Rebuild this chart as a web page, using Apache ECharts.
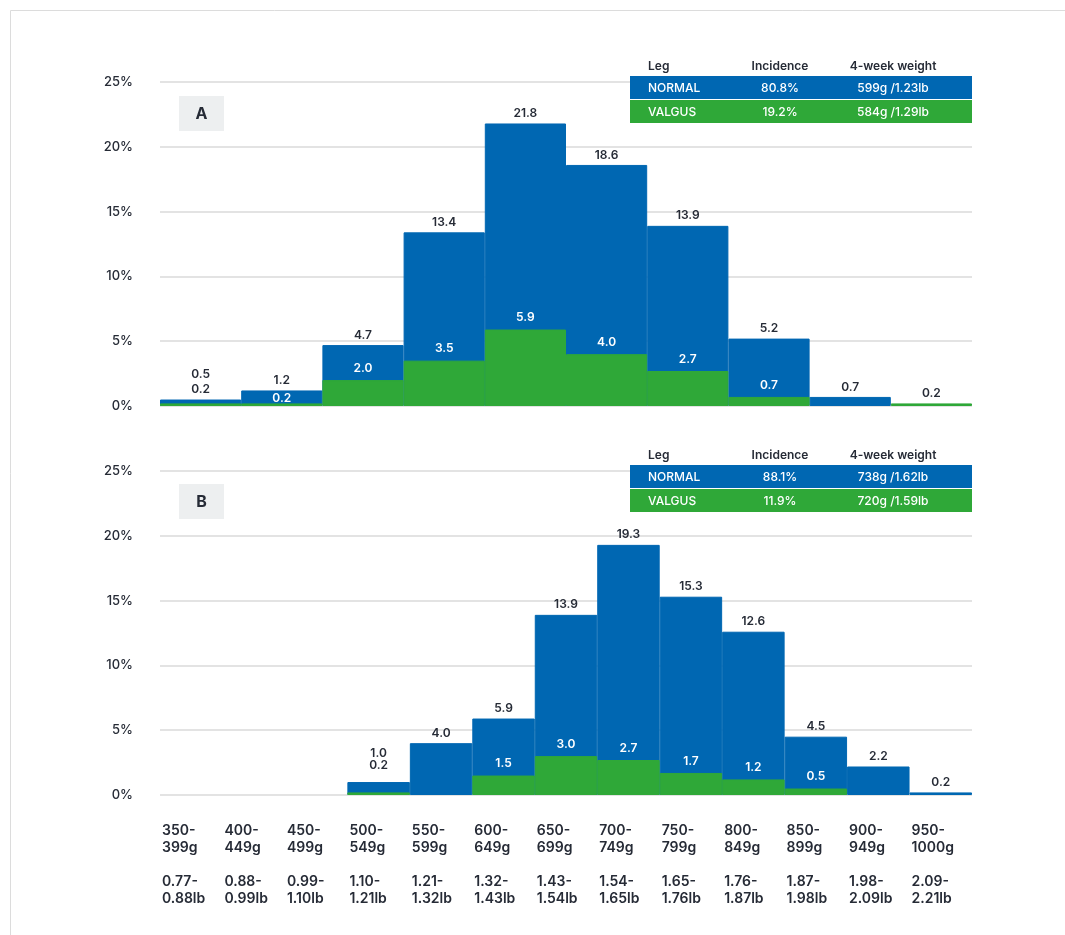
<!DOCTYPE html>
<html>
<head>
<meta charset="utf-8">
<title>Leg incidence by weight class</title>
<script src="https://cdn.jsdelivr.net/npm/echarts@6/dist/echarts.min.js"></script>
<style>
  html, body { margin: 0; padding: 0; background: #fff; }
  #chart { width: 1065px; height: 935px; }
</style>
</head>
<body>
<div id="chart"></div>
<script>
// panel A uses 10 bins, panel B uses the 13 labelled weight classes
const binsA = ['1', '2', '3', '4', '5', '6', '7', '8', '9', '10']
const normalA = [0.5, 1.2, 4.7, 13.4, 21.8, 18.6, 13.9, 5.2, 0.7, null]
const valgusA = [0.2, 0.2, 2.0, 3.5, 5.9, 4.0, 2.7, 0.7, null, 0.2]

const gramLabels = ['350-\n399g', '400-\n449g', '450-\n499g', '500-\n549g', '550-\n599g', '600-\n649g',
  '650-\n699g', '700-\n749g', '750-\n799g', '800-\n849g', '850-\n899g', '900-\n949g', '950-\n1000g']
const poundLabels = ['0.77-\n0.88lb', '0.88-\n0.99lb', '0.99-\n1.10lb', '1.10-\n1.21lb', '1.21-\n1.32lb', '1.32-\n1.43lb',
  '1.43-\n1.54lb', '1.54-\n1.65lb', '1.65-\n1.76lb', '1.76-\n1.87lb', '1.87-\n1.98lb', '1.98-\n2.09lb', '2.09-\n2.21lb']
const normalB = [null, null, null, 1.0, 4.0, 5.9, 13.9, 19.3, 15.3, 12.6, 4.5, 2.2, 0.2]
const valgusB = [null, null, null, 0.2, null, 1.5, 3.0, 2.7, 1.7, 1.2, 0.5, null, null]

const yTicks = [0, 5, 10, 15, 20, 25]

const tableA = [['NORMAL', '80.8%', '599g /1.23lb'], ['VALGUS', '19.2%', '584g /1.29lb']]
const tableB = [['NORMAL', '88.1%', '738g /1.62lb'], ['VALGUS', '11.9%', '720g /1.59lb']]

const BLUE = '#0067b2'
const GREEN = '#2fa838'
const DARK = '#262b36'
const FONT = 'Inter, "Noto Sans", sans-serif'

// tweak single labels where the green bar is too low to hold its value
const labelFix = {
  A: { normal: { 0: [0, -15] }, valgus: { 0: [0, -2, DARK], 1: [0, 7], 9: [0, 2, DARK] } },
  B: { normal: { 3: [0, -19] }, valgus: { 3: [0, -15, DARK] } }
}

const withFix = (values, fixes) => values.map((v, i) => {
  const f = fixes[i]
  if (!f || v == null) return v
  const label = { offset: [f[0], f[1]] }
  if (f[2]) label.color = f[2]
  return { value: v, label }
})

const barLabel = (color, distance) => ({
  show: true,
  position: 'top',
  distance,
  color,
  fontFamily: FONT,
  fontSize: 12,
  fontWeight: 600,
  formatter: (p) => p.value == null ? '' : Number(p.value).toFixed(1)
})

// border in the fill colour hides the thin seams between touching bars
const barStyle = (color) => ({ color, borderColor: color, borderWidth: 1 })

const yAxisCfg = (gridIndex) => ({
  type: 'value',
  gridIndex,
  min: 0,
  max: 25,
  interval: 5,
  axisLine: { show: false },
  axisTick: { show: false },
  splitLine: { lineStyle: { color: '#e3e3e3', width: 2 } },
  axisLabel: {
    margin: 27,
    color: DARK,
    fontFamily: FONT,
    fontSize: 13,
    fontWeight: 500,
    formatter: (v) => yTicks.includes(v) ? v + '%' : ''
  }
})

const tableGraphic = (top, rows) => {
  const els = []
  const cols = [{ x: 648, align: 'left' }, { x: 780, align: 'center' }, { x: 893, align: 'center' }]
  const heads = ['Leg', 'Incidence', '4-week weight']
  heads.forEach((h, i) => els.push({
    type: 'text', x: cols[i].x, y: top - 10, z: 100,
    style: { text: h, fill: DARK, font: '600 12px ' + FONT, align: cols[i].align, verticalAlign: 'middle' }
  }))
  rows.forEach((row, r) => {
    const y = top + r * 24
    els.push({ type: 'rect', z: 99, shape: { x: 630, y, width: 342, height: 23 }, style: { fill: r === 0 ? BLUE : GREEN } })
    row.forEach((t, i) => els.push({
      type: 'text', x: cols[i].x, y: y + 12, z: 100,
      style: { text: t, fill: '#fff', font: '500 12px ' + FONT, align: cols[i].align, verticalAlign: 'middle' }
    }))
  })
  return els
}

const panelTag = (y, letter) => [
  { type: 'rect', z: 100, shape: { x: 179, y, width: 45, height: 35 }, style: { fill: '#edeff0' } },
  { type: 'text', z: 101, x: 201.5, y: y + 18, style: { text: letter, fill: DARK, font: '700 16px ' + FONT, align: 'center', verticalAlign: 'middle' } }
]

const chart = echarts.init(document.getElementById('chart'))

const option = {
  animation: false,
  backgroundColor: '#fff',
  grid: [
    { left: 160, width: 812, top: 82, height: 324 },
    { left: 160, width: 812, top: 471, height: 324 }
  ],
  xAxis: [
    { type: 'category', gridIndex: 0, data: binsA, axisLine: { show: false }, axisTick: { show: false }, axisLabel: { show: false } },
    { type: 'category', gridIndex: 1, data: gramLabels, axisLine: { show: false }, axisTick: { show: false }, axisLabel: { show: false } },
    {
      // value axis only used to put tick labels at the left edge of each class
      type: 'value', gridIndex: 1, position: 'bottom', min: 0, max: 13, interval: 1,
      axisLine: { show: false }, axisTick: { show: false }, splitLine: { show: false },
      axisLabel: {
        showMaxLabel: false,
        align: 'left',
        verticalAlign: 'top',
        margin: 27,
        padding: [0, 0, 0, 2],
        color: DARK,
        fontFamily: FONT,
        fontSize: 14,
        fontWeight: 600,
        lineHeight: 17,
        formatter: (v) => (v < 13 ? gramLabels[v] + '\n\n' + poundLabels[v] : '')
      }
    }
  ],
  yAxis: [yAxisCfg(0), yAxisCfg(1)],
  series: [
    {
      name: 'NORMAL', type: 'bar', xAxisIndex: 0, yAxisIndex: 0,
      barWidth: '100%', barGap: '-100%', itemStyle: barStyle(BLUE),
      label: barLabel(DARK, 4), data: withFix(normalA, labelFix.A.normal)
    },
    {
      name: 'VALGUS', type: 'bar', xAxisIndex: 0, yAxisIndex: 0,
      barWidth: '100%', barGap: '-100%', itemStyle: barStyle(GREEN),
      label: barLabel('#fff', 6), data: withFix(valgusA, labelFix.A.valgus)
    },
    {
      name: 'NORMAL', type: 'bar', xAxisIndex: 1, yAxisIndex: 1,
      barWidth: '100%', barGap: '-100%', itemStyle: barStyle(BLUE),
      label: barLabel(DARK, 4), data: withFix(normalB, labelFix.B.normal)
    },
    {
      name: 'VALGUS', type: 'bar', xAxisIndex: 1, yAxisIndex: 1,
      barWidth: '100%', barGap: '-100%', itemStyle: barStyle(GREEN),
      label: barLabel('#fff', 6), data: withFix(valgusB, labelFix.B.valgus)
    }
  ],
  graphic: [
    // light frame, only top and left edges fall inside the picture
    { type: 'rect', z: 0, shape: { x: 10.5, y: 10.5, width: 1200, height: 1200 }, style: { fill: null, stroke: '#dcdcdc', lineWidth: 1 } },
    ...panelTag(96, 'A'),
    ...panelTag(484, 'B'),
    ...tableGraphic(76, tableA),
    ...tableGraphic(465, tableB)
  ]
}

chart.setOption(option)

window.addEventListener('resize', () => {
  chart && chart.resize()
})
</script>
</body>
</html>
